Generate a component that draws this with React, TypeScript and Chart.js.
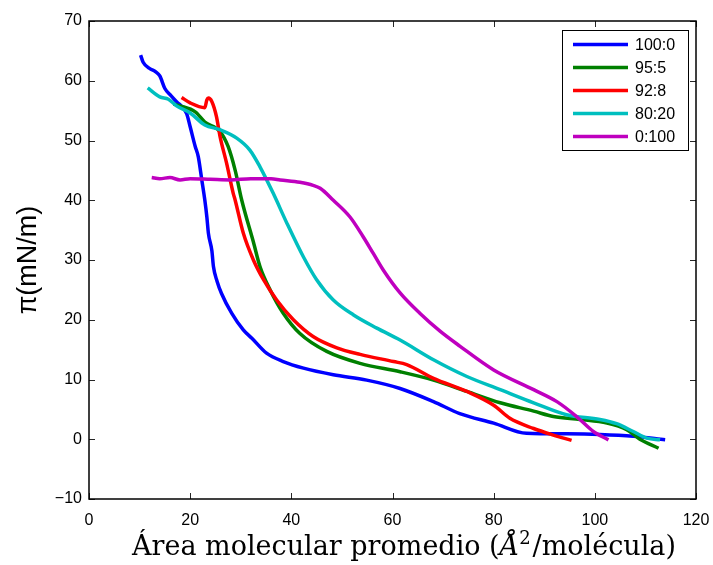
import React, { useEffect, useRef } from "react";
import { Chart, registerables } from "chart.js";

Chart.register(...registerables);

const seriesLabels = ["100:0", "95:5", "92:8", "80:20", "0:100"];
const seriesColors = ["#0000FF", "#008000", "#FF0000", "#00BFBF", "#BF00BF"];

const x100_0 = [10.2, 10.7, 12.1, 13.2, 14.0, 15.0, 16.2, 17.3, 19.3, 20.0, 21.0, 21.6, 22.3, 22.9, 23.3, 23.6, 24.3, 24.6, 25.3, 26.2, 28.2, 30.5, 32.2, 35.1, 38.4, 42.4, 48.3, 54.9, 61.5, 68.1, 73.3, 80.0, 86.5, 94.4, 101.0, 107.6, 113.9];
const y100_0 = [64.3, 63.1, 62.0, 61.5, 60.8, 58.7, 57.5, 56.5, 54.5, 52.3, 49.0, 47.3, 43.4, 40.0, 37.2, 34.5, 31.5, 28.9, 26.5, 24.4, 21.1, 18.3, 16.9, 14.4, 13.0, 11.9, 10.8, 9.9, 8.5, 6.3, 4.3, 2.7, 1.0, 0.9, 0.8, 0.5, -0.1];

const x95_5 = [16.7, 18.0, 21.0, 22.9, 25.9, 27.5, 28.9, 30.2, 32.5, 33.8, 35.8, 38.4, 41.7, 47.0, 53.6, 61.5, 68.1, 74.7, 81.3, 87.9, 91.8, 97.1, 102.4, 106.3, 108.9, 112.6];
const y95_5 = [56.1, 55.8, 54.8, 53.1, 51.5, 49.0, 45.0, 40.0, 33.0, 28.9, 25.0, 21.1, 17.7, 14.7, 12.7, 11.3, 9.9, 8.0, 6.1, 4.7, 3.8, 3.3, 2.7, 1.6, 0.0, -1.5];

const x92_8 = [18.3, 20.0, 22.9, 23.3, 23.6, 24.3, 25.2, 25.9, 27.2, 28.5, 28.9, 30.5, 32.5, 34.5, 37.1, 40.4, 44.3, 49.0, 53.6, 60.2, 62.8, 68.1, 74.7, 80.0, 83.2, 87.9, 91.8, 95.4];
const y92_8 = [57.2, 56.3, 55.5, 56.8, 57.1, 56.5, 54.0, 50.7, 46.2, 41.2, 40.0, 34.5, 30.0, 26.7, 23.3, 20.0, 17.2, 15.3, 14.2, 13.0, 12.5, 10.2, 8.0, 5.7, 3.5, 1.8, 0.7, -0.2];

const x80_20 = [11.6, 14.0, 15.7, 17.3, 20.0, 22.9, 25.9, 29.2, 31.8, 33.8, 36.4, 39.1, 42.4, 45.0, 48.3, 52.3, 56.9, 61.5, 68.1, 74.7, 81.3, 87.9, 94.4, 101.0, 104.3, 107.6, 110.3, 112.9];
const y80_20 = [58.8, 57.3, 56.9, 55.8, 54.6, 52.6, 51.8, 50.4, 48.4, 45.6, 41.2, 36.2, 30.5, 26.7, 23.3, 20.8, 18.6, 16.6, 13.3, 10.5, 8.3, 6.1, 4.1, 3.3, 2.6, 1.3, 0.2, -0.1];

const x0_100 = [12.4, 14.0, 16.0, 18.0, 20.0, 24.0, 28.0, 32.0, 36.0, 37.8, 41.7, 44.3, 45.7, 48.3, 51.6, 54.2, 56.2, 58.2, 61.5, 65.4, 69.4, 73.3, 80.0, 87.9, 92.5, 96.4, 99.7, 102.7];
const y0_100 = [43.8, 43.6, 43.8, 43.4, 43.6, 43.5, 43.4, 43.6, 43.6, 43.4, 43.0, 42.5, 42.0, 40.0, 37.2, 33.9, 31.1, 28.3, 24.5, 21.1, 18.1, 15.6, 11.6, 8.3, 6.3, 3.8, 1.3, -0.1];

const xTicks = [0, 20, 40, 60, 80, 100, 120];
const yTicks = [-10, 0, 10, 20, 30, 40, 50, 60, 70];

const xTitleParts = ["Área molecular promedio (", "Å", "2", "/molécula)"];
const yTitle = "π(mN/m)";

const allX = [x100_0, x95_5, x92_8, x80_20, x0_100];
const allY = [y100_0, y95_5, y92_8, y80_20, y0_100];

const SERIF = "'DejaVu Serif', serif";

const framePlugin = {
  id: "frame",
  afterDatasetsDraw(chart: any) {
    const { ctx, chartArea: a, scales } = chart;
    const xs = scales.x;
    const ys = scales.y;
    ctx.save();
    ctx.strokeStyle = "#262626";
    ctx.lineWidth = 1;
    const tl = 6;
    xTicks.forEach((v) => {
      const px = Math.round(xs.getPixelForValue(v)) + 0.5;
      ctx.beginPath();
      ctx.moveTo(px, a.bottom);
      ctx.lineTo(px, a.bottom - tl);
      ctx.moveTo(px, a.top);
      ctx.lineTo(px, a.top + tl);
      ctx.stroke();
    });
    yTicks.forEach((v) => {
      const py = Math.round(ys.getPixelForValue(v)) + 0.5;
      ctx.beginPath();
      ctx.moveTo(a.left, py);
      ctx.lineTo(a.left + tl, py);
      ctx.moveTo(a.right, py);
      ctx.lineTo(a.right - tl, py);
      ctx.stroke();
    });
    ctx.strokeStyle = "#000";
    ctx.lineWidth = 1.5;
    ctx.strokeRect(a.left, a.top, a.right - a.left, a.bottom - a.top);

    // legend
    const lx = 562, ly = 30, lw = 126, lh = 120;
    ctx.fillStyle = "#fff";
    ctx.fillRect(lx, ly, lw, lh);
    ctx.lineWidth = 1;
    ctx.strokeStyle = "#000";
    ctx.strokeRect(lx + 0.5, ly + 0.5, lw, lh);
    ctx.font = "16px 'Liberation Sans', Arial, sans-serif";
    ctx.textBaseline = "middle";
    ctx.textAlign = "left";
    seriesLabels.forEach((lab, i) => {
      const yy = 44.5 + i * 23;
      ctx.strokeStyle = seriesColors[i];
      ctx.lineWidth = 3.5;
      ctx.beginPath();
      ctx.moveTo(573, yy);
      ctx.lineTo(628, yy);
      ctx.stroke();
      ctx.fillStyle = "#000";
      ctx.fillText(lab, 635, yy + 1);
    });

    // x axis title with italic Å and superscript 2
    ctx.fillStyle = "#000";
    ctx.textAlign = "left";
    ctx.textBaseline = "alphabetic";
    const fonts = [
      "27px " + SERIF,
      "italic 27px " + SERIF,
      "18px " + SERIF,
      "27px " + SERIF,
    ];
    const widths = xTitleParts.map((t, i) => {
      ctx.font = fonts[i];
      return ctx.measureText(t).width;
    });
    const gap = 2;
    const total = widths.reduce((s, w) => s + w, 0) + gap;
    let cx = 404 - total / 2;
    const base = 555;
    xTitleParts.forEach((t, i) => {
      ctx.font = fonts[i];
      const dy = i === 2 ? -11 : 0;
      ctx.fillText(t, cx, base + dy);
      cx += widths[i] + (i === 2 ? gap : 0);
    });

    ctx.textAlign = "center";
    ctx.save();
    ctx.translate(36, (a.top + a.bottom) / 2);
    ctx.rotate(-Math.PI / 2);
    ctx.font = "27px 'Liberation Sans', Arial, sans-serif";
    ctx.fillText(yTitle, 0, 0);
    ctx.restore();
    ctx.restore();
  },
};

export default function App() {
  const ref = useRef<HTMLCanvasElement | null>(null);
  useEffect(() => {
    if (!ref.current) return;
    const datasets = seriesLabels.map((lab, i) => ({
      label: lab,
      data: allX[i].map((x, j) => ({ x, y: allY[i][j] })),
      borderColor: seriesColors[i],
      backgroundColor: seriesColors[i],
      borderWidth: 3.5,
      pointRadius: 0,
      showLine: true,
      cubicInterpolationMode: "monotone" as const,
      fill: false,
      order: 5 - i,
    }));
    const chart = new Chart(ref.current, {
      type: "scatter",
      data: { datasets },
      options: {
        animation: false,
        responsive: false,
        devicePixelRatio: 1,
        layout: { padding: { top: 21, right: 17, left: 0, bottom: 0 } },
        plugins: { legend: { display: false }, tooltip: { enabled: false } },
        scales: {
          x: {
            type: "linear",
            min: 0,
            max: 120,
            afterBuildTicks: (s: any) => {
              s.ticks = xTicks.map((v) => ({ value: v }));
            },
            grid: { display: false, drawTicks: false },
            border: { display: false },
            ticks: {
              padding: 12,
              color: "#000",
              font: { size: 16, family: "'Liberation Sans', Arial, sans-serif" },
              maxRotation: 0,
            },
            afterFit: (s: any) => {
              s.height = 66;
              s.paddingLeft = 0;
              s.paddingRight = 0;
            },
          },
          y: {
            type: "linear",
            min: -10,
            max: 70,
            afterBuildTicks: (s: any) => {
              s.ticks = yTicks.map((v) => ({ value: v }));
            },
            grid: { display: false, drawTicks: false },
            border: { display: false },
            ticks: {
              padding: 7,
              color: "#000",
              font: { size: 16, family: "'Liberation Sans', Arial, sans-serif" },
              callback: (v: any) => String(v).replace("-", "\u2212"),
            },
            afterFit: (s: any) => {
              s.width = 89;
              s.paddingTop = 0;
              s.paddingBottom = 0;
            },
          },
        },
      },
      plugins: [framePlugin],
    });
    return () => chart.destroy();
  }, []);
  return (
    <div style={{ position: "fixed", left: 0, top: 0, width: 713, height: 565, background: "#fff" }}>
      <canvas ref={ref} width={713} height={565} />
    </div>
  );
}
